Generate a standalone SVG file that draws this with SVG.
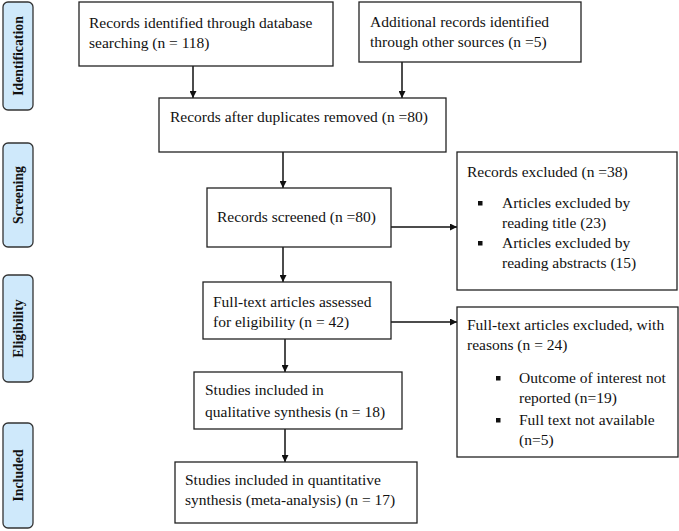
<svg xmlns="http://www.w3.org/2000/svg" width="679" height="531" viewBox="0 0 679 531">
<defs>
<style>
.box{fill:#fff;stroke:#222;stroke-width:1.3}
.stage{fill:#cfe9fb;stroke:#333;stroke-width:1.3}
text{font-family:"Liberation Serif","Times New Roman",serif;font-size:15.5px;fill:#111}
.st{font-weight:bold;text-anchor:middle;font-size:13.8px}
.cn{stroke:#111;stroke-width:1.5;fill:none;marker-end:url(#ah)}
.bl{fill:#111}
</style>
<marker id="ah" viewBox="0 0 10 10" refX="10" refY="5" markerWidth="7" markerHeight="7" markerUnits="userSpaceOnUse" orient="auto"><path d="M0,0 L10,5 L0,10 z" fill="#111"/></marker>
</defs>
<rect width="679" height="531" fill="#fff"/>
<g id="stage-identification"><rect class="stage" x="3" y="2" width="30" height="108" rx="5"/><text class="st" transform="translate(23,56) rotate(-90)">Identification</text></g>
<g id="stage-screening"><rect class="stage" x="3" y="143" width="30" height="104" rx="5"/><text class="st" transform="translate(23,195) rotate(-90)">Screening</text></g>
<g id="stage-eligibility"><rect class="stage" x="3" y="275" width="30" height="107" rx="5"/><text class="st" transform="translate(23,328.5) rotate(-90)">Eligibility</text></g>
<g id="stage-included"><rect class="stage" x="3" y="423" width="30" height="105" rx="5"/><text class="st" transform="translate(23,475.5) rotate(-90)">Included</text></g>

<g id="connectors">
<line class="cn" x1="193" y1="66" x2="193" y2="98"/>
<line class="cn" x1="402" y1="62" x2="402" y2="98"/>
<line class="cn" x1="283" y1="152" x2="283" y2="188"/>
<line class="cn" x1="391" y1="227" x2="457" y2="227"/>
<line class="cn" x1="283" y1="247" x2="283" y2="282"/>
<line class="cn" x1="391" y1="322" x2="457" y2="322"/>
<line class="cn" x1="285" y1="339" x2="285" y2="372"/>
<line class="cn" x1="285" y1="429" x2="285" y2="462"/>
</g>

<g id="n1"><rect class="box" x="79" y="2" width="254" height="64"/><text x="89" y="28">Records identified through database</text><text x="89" y="48">searching (n = 118)</text></g>
<g id="n2"><rect class="box" x="359" y="2" width="222" height="60"/><text x="370" y="27">Additional records identified</text><text x="370" y="47">through other sources (n =5)</text></g>
<g id="n3"><rect class="box" x="159" y="98" width="287" height="54"/><text x="170" y="122">Records after duplicates removed (n =80)</text></g>
<g id="n4"><rect class="box" x="207" y="188" width="184" height="59"/><text x="217" y="222">Records screened (n =80)</text></g>
<g id="n5"><rect class="box" x="457" y="152" width="220" height="138"/><text x="467" y="177">Records excluded (n =38)</text>
<rect class="bl" x="478" y="201" width="4.5" height="4.5"/><text x="502" y="208">Articles excluded by</text><text x="502" y="228">reading title (23)</text>
<rect class="bl" x="478" y="241" width="4.5" height="4.5"/><text x="502" y="248">Articles excluded by</text><text x="502" y="268">reading abstracts (15)</text></g>
<g id="n6"><rect class="box" x="203" y="282" width="188" height="57"/><text x="213" y="307">Full-text articles assessed</text><text x="213" y="327">for eligibility (n = 42)</text></g>
<g id="n7"><rect class="box" x="457" y="307" width="221" height="150"/><text x="467" y="330">Full-text articles excluded, with</text><text x="467" y="350">reasons (n = 24)</text>
<rect class="bl" x="496" y="376" width="4.5" height="4.5"/><text x="519" y="383">Outcome of interest not</text><text x="519" y="403">reported (n=19)</text>
<rect class="bl" x="496" y="418" width="4.5" height="4.5"/><text x="519" y="425">Full text not available</text><text x="519" y="445">(n=5)</text></g>
<g id="n8"><rect class="box" x="194" y="372" width="208" height="57"/><text x="205" y="395">Studies included in</text><text x="205" y="417">qualitative synthesis (n = 18)</text></g>
<g id="n9"><rect class="box" x="175" y="462" width="242" height="61"/><text x="185" y="485">Studies included in quantitative</text><text x="185" y="505">synthesis (meta-analysis) (n = 17)</text></g>
</svg>
